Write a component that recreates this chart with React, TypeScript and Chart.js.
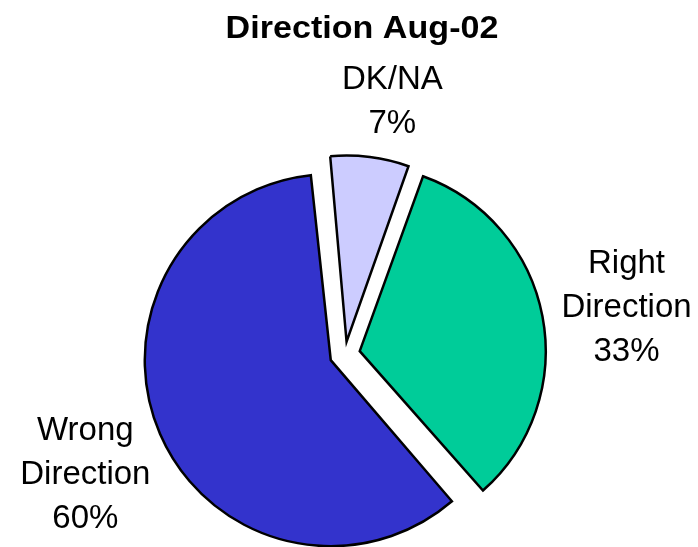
import React, { useEffect, useRef } from "react";
import { Chart, registerables } from "chart.js";

Chart.register(...registerables);

const TITLE = "Direction Aug-02";
const categories = ["Right Direction", "Wrong Direction", "DK/NA"];
const labelLines = [["Right", "Direction"], ["Wrong", "Direction"], ["DK/NA"]];
const values = [33, 60, 7];
const colors = ["#00CC99", "#3333CC", "#CCCCFF"];
const explodePx = [15, 15.5, 12.5];

const FONT = 'Arial, "Liberation Sans", sans-serif';
const BASE_RADIUS = 186;

// compensate Chart.js' radius growth on offset arcs so all slices share one radius
const radiusFixPlugin = {
  id: "radiusFix",
  afterDatasetUpdate(chart: any) {
    const meta = chart.getDatasetMeta(0);
    meta.data.forEach((arc: any) => {
      const t = (arc.options.offset || 0) / 4;
      const fix = 1 - Math.sin(Math.min(Math.PI, arc.circumference || 0));
      arc.outerRadius = BASE_RADIUS - t * fix;
    });
  },
};

const titlePlugin = {
  id: "stretchedTitle",
  afterDraw(chart: any) {
    const ctx = chart.ctx;
    ctx.save();
    ctx.font = `bold 31px ${FONT}`;
    ctx.fillStyle = "#000";
    ctx.textAlign = "center";
    ctx.textBaseline = "alphabetic";
    ctx.translate(362, 38);
    ctx.scale(1.1, 1);
    ctx.fillText(TITLE, 0, 0);
    ctx.restore();
  },
};

const labelPlugin = {
  id: "sliceLabels",
  afterDatasetsDraw(chart: any, _args: any, opts: any) {
    const meta = chart.getDatasetMeta(0);
    const ctx = chart.ctx;
    const total = values.reduce((a, b) => a + b, 0);
    const size = 33;
    const lh = 44;
    const cap = 0.716 * size;
    ctx.save();
    ctx.font = `${size}px ${FONT}`;
    ctx.fillStyle = "#000";
    ctx.textAlign = "center";
    ctx.textBaseline = "alphabetic";
    meta.data.forEach((arc: any, i: number) => {
      const { x, y, startAngle, endAngle } = arc;
      const mid = (startAngle + endAngle) / 2;
      const t = (arc.options.offset || 0) / 4;
      const ax = x + Math.cos(mid) * t;
      const ay = y + Math.sin(mid) * t;
      const a = mid + (opts.nudge[i] * Math.PI) / 180;
      const d = BASE_RADIUS * opts.dist[i];
      const cx = ax + Math.cos(a) * d;
      const cy = ay + Math.sin(a) * d;
      const lines = [...labelLines[i], Math.round((values[i] / total) * 100) + "%"];
      const blockH = (lines.length - 1) * lh + cap;
      const firstBase = cy - blockH / 2 + cap;
      lines.forEach((txt, j) => ctx.fillText(txt, cx, firstBase + j * lh));
    });
    ctx.restore();
  },
};

export default function App() {
  const canvasRef = useRef<HTMLCanvasElement | null>(null);

  useEffect(() => {
    const canvas = canvasRef.current;
    if (!canvas) return;
    const chart = new Chart(canvas, {
      type: "pie",
      data: {
        labels: categories,
        datasets: [
          {
            data: values,
            backgroundColor: colors,
            borderColor: "#000000",
            borderWidth: 2.5,
            borderJoinStyle: "miter",
            offset: explodePx.map((v) => v * 4),
            clip: false,
          } as any,
        ],
      },
      options: {
        responsive: false,
        animation: false,
        events: [],
        rotation: 19.8,
        radius: BASE_RADIUS,
        layout: { padding: { left: 0, right: 8, top: 161, bottom: 0 } },
        plugins: {
          legend: { display: false },
          title: { display: false },
          tooltip: { enabled: false },
          sliceLabels: { dist: [1.455, 1.45, 1.325], nudge: [1.1, -1.1, 3.5] },
        } as any,
      },
      plugins: [radiusFixPlugin, labelPlugin, titlePlugin],
    });
    return () => chart.destroy();
  }, []);

  return (
    <div style={{ position: "fixed", left: 0, top: 0, width: 698, height: 547, background: "#fff" }}>
      <canvas ref={canvasRef} width={698} height={547} style={{ display: "block" }} />
    </div>
  );
}
